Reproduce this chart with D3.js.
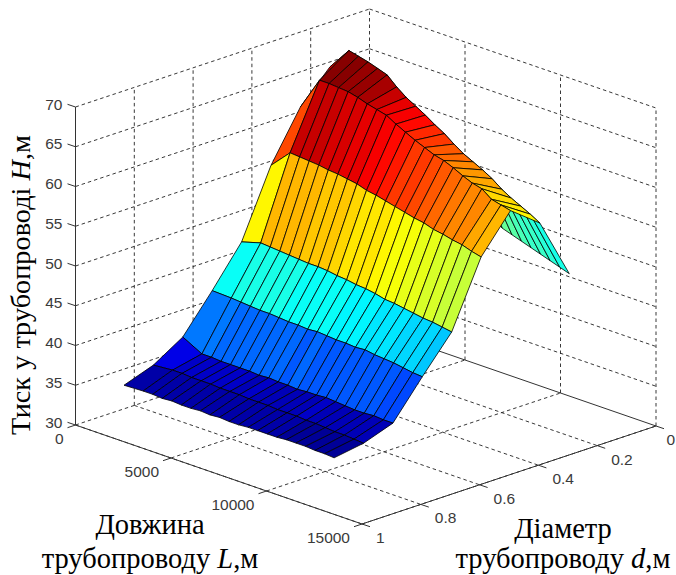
<!DOCTYPE html>
<html>
<head>
<meta charset="utf-8">
<script src="https://cdnjs.cloudflare.com/ajax/libs/d3/7.8.5/d3.min.js"></script>
<style>
  html, body { margin: 0; padding: 0; background: #fff; }
  svg { display: block; }
</style>
</head>
<body>
<div id="chart"></div>
<script>
// Pipeline pressure surface, H(L, d), drawn as a fixed oblique projection

const pipeLengths = [1000, 2000, 2500, 3000, 3500, 4000, 4500, 5000, 5500, 6000, 6500, 7000,
  7500, 8000, 8500, 9000, 9500, 10000, 10500, 11000, 11500, 12000];
const pipeDiameters = [0.1, 0.2, 0.3, 0.4, 0.5, 0.6, 0.7, 0.8, 0.9];

// Pressure along each diameter, one value per pipe length
const pressureD01 = [57, 56.5, 56.2, 55.8, 55.4, 55, 54.6, 54.2, 53.8, 53.4, 53, 52.6, 52.2, 51.6, 50.7, 50.3, 49.9, 49.5, 49.1, 48.7, 48.3, 47.9];
const pressureD02 = [66, 68.9, 68.6, 68.3, 67.9, 67.5, 66.4, 65.5, 64.8, 64.1, 63.3, 62.6, 61.7, 60.9, 60.3, 59.7, 59, 58.1, 57.4, 56.8, 56.2, 55.5];
const pressureD03 = [62.2, 66.4, 66.4, 66.3, 66.2, 65.9, 65.5, 65.2, 64.9, 64.2, 63.6, 63, 62.5, 62, 61.7, 61.2, 60.6, 60.1, 59.8, 58.9, 58.6, 58.3];
const pressureD04 = [56.1, 58.5, 58.4, 58.3, 58.2, 58, 57.9, 57.7, 57.5, 57.1, 56.9, 56.6, 56.3, 56, 55.7, 55.5, 55.1, 54.9, 54.6, 54.4, 54, 53.7];
const pressureD05 = [47.7, 48.4, 48.3, 48.2, 48.1, 48, 47.9, 47.9, 47.8, 47.6, 47.5, 47.3, 47.2, 47, 46.7, 46.6, 46.4, 46.2, 46, 45.9, 45.7, 45.5];
const pressureD06 = [42.8, 42.7, 42.6, 42.5, 42.4, 42.4, 42.3, 42.2, 42.2, 42.1, 42.2, 42.1, 42, 42, 41.9, 42, 41.8, 41.7, 41.6, 41.4, 41.2, 41.1];
const pressureD07 = [38.2, 36.9, 36.9, 36.8, 36.8, 36.8, 36.8, 36.7, 36.8, 36.7, 36.7, 36.6, 36.7, 36.7, 36.8, 36.7, 36.6, 36.5, 36.5, 36.6, 36.5, 36.5];
const pressureD08 = [35.9, 36.1, 36.1, 36, 36, 36, 35.9, 35.9, 35.9, 35.8, 35.8, 35.8, 35.7, 35.7, 35.7, 35.6, 35.6, 35.5, 35.4, 35.4, 35.3, 35.2];
const pressureD09 = [34.6, 34.7, 34.7, 34.6, 34.7, 34.6, 34.6, 34.7, 34.6, 34.7, 34.6, 34.6, 34.7, 34.7, 34.7, 34.7, 34.8, 34.8, 34.8, 34.7, 34.7, 34.6];
const pressure = [pressureD01, pressureD02, pressureD03, pressureD04, pressureD05, pressureD06, pressureD07, pressureD08, pressureD09];

const lengthTicks = [0, 5000, 10000, 15000];
const diameterTicks = [0, 0.2, 0.4, 0.6, 0.8, 1];
const pressureTicks = [30, 35, 40, 45, 50, 55, 60, 65, 70];

const width = 676, height = 575;

// Floor corners of the box on screen
const corner = { A: [75.5, 425], B: [362, 524], D: [369.5, 327] };
const boxHeight = 318;

const lengthScale = d3.scaleLinear().domain([0, 15000]).range([0, 1]);
const diameterScale = d3.scaleLinear().domain([1, 0]).range([0, 1]);
const pressureScale = d3.scaleLinear().domain([30, 70]).range([0, boxHeight]);

function project(L, d, H) {
  const u = lengthScale(L), v = diameterScale(d);
  return [
    corner.A[0] + u * (corner.B[0] - corner.A[0]) + v * (corner.D[0] - corner.A[0]),
    corner.A[1] + u * (corner.B[1] - corner.A[1]) + v * (corner.D[1] - corner.A[1]) - pressureScale(H)
  ];
}

// MATLAB jet, 64 levels
function jet(t) {
  const clamp = (x) => Math.max(0, Math.min(1, x));
  const r = clamp(Math.min(4 * t - 1.5, -4 * t + 4.5));
  const g = clamp(Math.min(4 * t - 0.5, -4 * t + 3.5));
  const b = clamp(Math.min(4 * t + 0.5, -4 * t + 2.5));
  return d3.rgb(r * 255, g * 255, b * 255).formatHex();
}
const colorScale = d3.scaleQuantize()
  .domain([d3.min(pressure.flat()), d3.max(pressure.flat())])
  .range(d3.range(64).map((i) => jet((i + 0.5) / 64)));

const svg = d3.select("#chart").append("svg")
  .attr("width", width)
  .attr("height", height)
  .attr("viewBox", `0 0 ${width} ${height}`);

const line = d3.line();

function drawLine(g, from, to, solid) {
  g.append("path")
    .attr("d", line([from, to]))
    .attr("fill", "none")
    .attr("stroke", solid ? "#333" : "#222")
    .attr("stroke-width", solid ? 1 : 0.9)
    .attr("stroke-dasharray", solid ? null : "3.5 3");
}

// Grid on the two back walls and the floor
const grid = svg.append("g").attr("class", "grid");

pressureTicks.forEach((H) => {
  drawLine(grid, project(0, 1, H), project(0, 0, H), false);
  drawLine(grid, project(0, 0, H), project(15000, 0, H), H === 30);
});
diameterTicks.forEach((d) => {
  if (d < 1) drawLine(grid, project(0, d, 30), project(0, d, 70), false);
  if (d > 0) drawLine(grid, project(0, d, 30), project(15000, d, 30), false);
});
lengthTicks.forEach((L) => {
  if (L > 0) drawLine(grid, project(L, 0, 30), project(L, 0, 70), false);
  if (L > 0) drawLine(grid, project(L, 1, 30), project(L, 0, 30), false);
});

// Surface, far facets first so the nearer ones cover them
const surface = svg.append("g").attr("class", "surface");
for (let i = 0; i < pipeDiameters.length - 1; i++) {
  for (let j = 0; j < pipeLengths.length - 1; j++) {
    const ring = [
      project(pipeLengths[j], pipeDiameters[i], pressure[i][j]),
      project(pipeLengths[j + 1], pipeDiameters[i], pressure[i][j + 1]),
      project(pipeLengths[j + 1], pipeDiameters[i + 1], pressure[i + 1][j + 1]),
      project(pipeLengths[j], pipeDiameters[i + 1], pressure[i + 1][j])
    ];
    surface.append("path")
      .attr("d", line(ring) + "Z")
      .attr("fill", colorScale(pressure[i][j]))
      .attr("stroke", "#000")
      .attr("stroke-width", 0.8)
      .attr("stroke-linejoin", "round");
  }
}

// Solid axes
const axes = svg.append("g").attr("class", "axes");
drawLine(axes, project(0, 1, 30), project(0, 1, 70), true);
drawLine(axes, project(0, 1, 30), project(15000, 1, 30), true);
drawLine(axes, project(15000, 1, 30), project(15000, 0, 30), true);

const tickFont = "'Liberation Sans', Arial, sans-serif";
const tickColor = "#3a3a3a";

function tickLabel(pos, text, anchor, dx, dy) {
  axes.append("text")
    .attr("x", pos[0] + dx)
    .attr("y", pos[1] + dy)
    .attr("text-anchor", anchor)
    .attr("dominant-baseline", "central")
    .attr("font-family", tickFont)
    .attr("font-size", "15.5px")
    .attr("fill", tickColor)
    .text(text);
}

lengthTicks.forEach((L) => {
  const p = project(L, 1, 30);
  drawLine(axes, p, [p[0] - 8, p[1] + 2.7], true);
  tickLabel(p, L, "end", -12, 13.5);
});
diameterTicks.forEach((d) => {
  const p = project(15000, d, 30);
  drawLine(axes, p, [p[0] + 8, p[1] + 2.7], true);
  // the last label sits right at the page edge, so it gets a little less room
  tickLabel(p, d, "start", d === 0 ? 10.5 : 14, 13.5);
});
pressureTicks.forEach((H) => {
  const p = project(0, 1, H);
  drawLine(axes, p, [p[0] - 8, p[1] - 2.7], true);
  tickLabel(p, H, "end", -13, -3);
});

// Axis titles
const titleFont = "'Liberation Serif', 'Times New Roman', serif";

function title(x, y, parts, size, rotate) {
  const t = svg.append("text")
    .attr("text-anchor", "middle")
    .attr("font-family", titleFont)
    .attr("font-size", size + "px")
    .attr("fill", "#000")
    .attr("transform", `translate(${x},${y})${rotate ? " rotate(-90)" : ""}`);
  parts.forEach(([text, italic]) => {
    t.append("tspan").attr("font-style", italic ? "italic" : "normal").text(text);
  });
}

title(150, 534, [["Довжина", false]], 28.5);
title(150, 568, [["трубопроводу ", false], ["L", true], [",м", false]], 28.5);
title(563, 538, [["Діаметр", false]], 28.5);
title(563, 568, [["трубопроводу ", false], ["d", true], [",м", false]], 28.5);
title(30, 285, [["Тиск у трубопроводі ", false], ["H", true], [",м", false]], 28.3, true);
</script>
</body>
</html>
